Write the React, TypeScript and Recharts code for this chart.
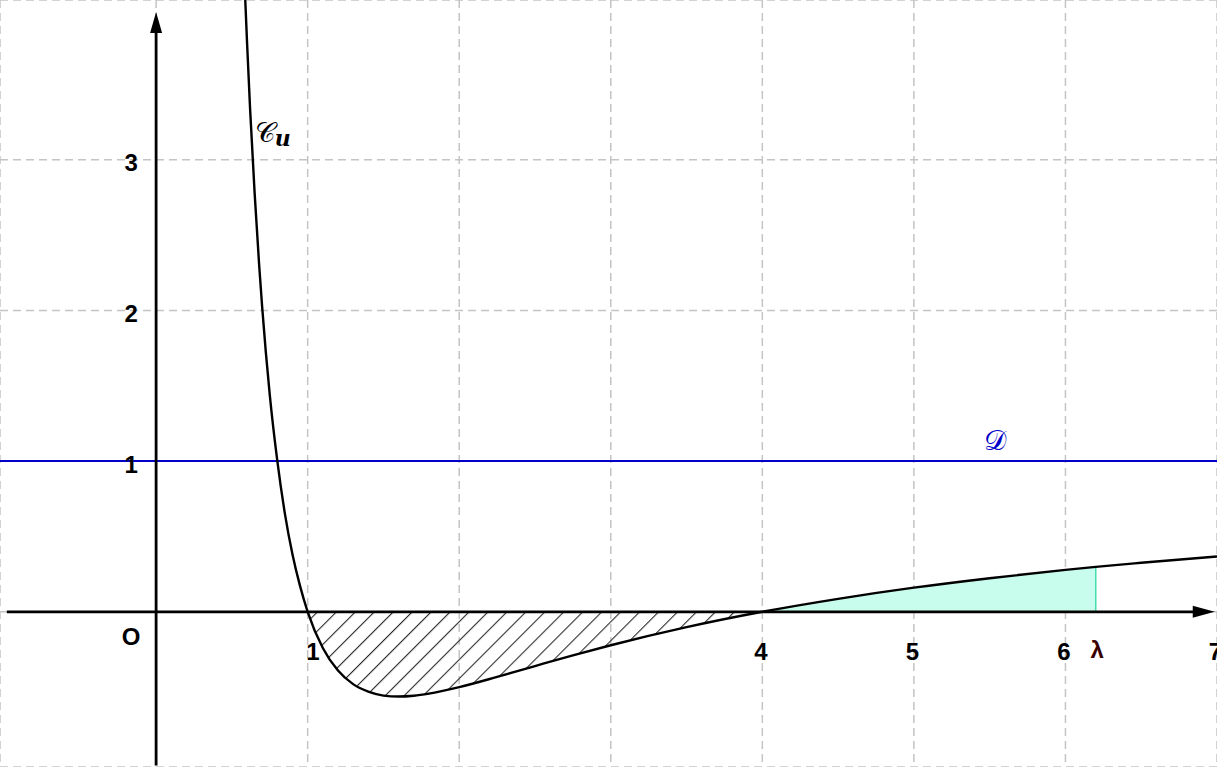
import {
  ComposedChart,
  Line,
  Area,
  XAxis,
  YAxis,
  CartesianGrid,
  ReferenceLine,
  ReferenceDot,
} from "recharts";

// values
const xValues = [
  0.585, 0.6, 0.62, 0.65, 0.68, 0.7, 0.75, 0.8, 0.85, 0.9, 0.95, 1, 1.1, 1.2,
  1.3, 1.4, 1.5, 1.6, 1.7, 1.8, 2, 2.25, 2.5, 2.75, 3, 3.5, 4, 4.5, 5, 5.5, 6,
  6.2, 6.5, 7,
];
const uValues = [
  4.14, 3.78, 3.34, 2.78, 2.3, 2.02, 1.44, 1.0, 0.65, 0.38, 0.17, 0, -0.24,
  -0.39, -0.48, -0.53, -0.556, -0.5625, -0.557, -0.543, -0.5, -0.432, -0.36,
  -0.289, -0.222, -0.102, 0, 0.086, 0.16, 0.223, 0.278, 0.298, 0.325, 0.367,
];
const lambda = 6.2;
const xTicks = [-1, 0, 1, 2, 3, 4, 5, 6, 7];
const yTicks = [-1, 0, 1, 2, 3];
const yLabels = ["1", "2", "3"];
const xLabels = ["1", "4", "5", "6", "7"];

const data = xValues.map((x, i) => ({
  x,
  u: uValues[i],
  hatch: x >= 1 && x <= 4 ? uValues[i] : null,
  cyan: x >= 4 && x <= lambda ? uValues[i] : null,
}));

const labelStyle = {
  fontFamily: "'Liberation Sans', Arial, sans-serif",
  fontSize: "24px",
  fontWeight: 700,
};

const textShape =
  (value: string, color = "#000") =>
  (p: any) =>
    (
      <text
        x={p.cx}
        y={p.cy}
        textAnchor="middle"
        dominantBaseline="central"
        fill={color}
        style={labelStyle}
      >
        {value}
      </text>
    );

const arrowShape = (dir: "up" | "right") => (p: any) => {
  const { x1, y1, x2, y2 } = p;
  if (dir === "up") {
    const top = Math.min(y1, y2);
    const bottom = Math.max(y1, y2);
    return (
      <g>
        <line x1={x1} y1={bottom} x2={x1} y2={top + 18} stroke="#000" strokeWidth={2.8} />
        <polygon
          points={`${x1},${top} ${x1 - 6},${top + 21} ${x1 + 6},${top + 21}`}
          fill="#000"
        />
      </g>
    );
  }
  const left = Math.min(x1, x2);
  const right = Math.max(x1, x2);
  return (
    <g>
      <line x1={left} y1={y1} x2={right - 18} y2={y1} stroke="#000" strokeWidth={2.8} />
      <polygon
        points={`${right},${y1} ${right - 22},${y1 - 6} ${right - 22},${y1 + 6}`}
        fill="#000"
      />
    </g>
  );
};

export default function App() {
  return (
    <div style={{ position: "fixed", left: 0, top: 0, background: "#fff" }}>
      <ComposedChart
        width={1217}
        height={767}
        data={data}
        margin={{ top: 0, right: 0, bottom: 0, left: 0 }}
      >
        <defs>
          <pattern
            id="hatch"
            patternUnits="userSpaceOnUse"
            width={13.4}
            height={13.4}
            patternTransform="rotate(45)"
          >
            <line x1={0} y1={0} x2={0} y2={13.4} stroke="#2a2a2a" strokeWidth={2.2} />
          </pattern>
        </defs>
        <XAxis
          dataKey="x"
          type="number"
          domain={[-1.03, 7.0]}
          ticks={xTicks}
          allowDataOverflow
          hide
        />
        <YAxis
          type="number"
          domain={[-1.03, 4.06]}
          ticks={yTicks}
          allowDataOverflow
          hide
        />
        <CartesianGrid stroke="#c4c4c4" strokeWidth={1.5} strokeDasharray="8 5" />

        <Area
          dataKey="hatch"
          type="monotone"
          baseValue={0}
          stroke="none"
          fill="url(#hatch)"
          fillOpacity={1}
          isAnimationActive={false}
          connectNulls={false}
        />
        <Area
          dataKey="cyan"
          type="monotone"
          baseValue={0}
          stroke="none"
          fill="#c8fcec"
          fillOpacity={1}
          isAnimationActive={false}
          connectNulls={false}
        />
        <ReferenceLine
          segment={[
            { x: lambda, y: 0 },
            { x: lambda, y: 0.298 },
          ]}
          stroke="#44ddb0"
          strokeWidth={1.5}
        />
        <ReferenceLine y={1} stroke="#0000c8" strokeWidth={2} />

        <Line
          dataKey="u"
          type="monotone"
          stroke="#000"
          strokeWidth={2.4}
          dot={false}
          isAnimationActive={false}
        />

        <ReferenceLine
          segment={[
            { x: -0.985, y: 0 },
            { x: 6.985, y: 0 },
          ]}
          shape={arrowShape("right")}
        />
        <ReferenceLine
          segment={[
            { x: 0, y: -1.02 },
            { x: 0, y: 3.98 },
          ]}
          shape={arrowShape("up")}
        />

        {yLabels.map((t) => (
          <ReferenceDot
            key={`y${t}`}
            x={-0.165}
            y={Number(t) - 0.02}
            r={0}
            shape={textShape(t)}
          />
        ))}
        <ReferenceDot x={-0.165} y={-0.166} r={0} shape={textShape("O")} />
        {xLabels.map((t) => (
          <ReferenceDot
            key={`x${t}`}
            x={t === "1" ? 1.035 : t === "7" ? 6.99 : Number(t) - 0.01}
            y={-0.265}
            r={0}
            shape={textShape(t)}
          />
        ))}
        <ReferenceDot x={6.21} y={-0.25} r={0} shape={textShape("λ", "#3a0000")} />
        <ReferenceDot
          x={0.77}
          y={3.18}
          r={0}
          shape={(p: any) => (
            <text
              x={p.cx}
              y={p.cy}
              textAnchor="middle"
              dominantBaseline="central"
              style={{ fontFamily: "'DejaVu Serif', serif", fontSize: "28px" }}
            >
              𝒞
              <tspan style={{ fontStyle: "italic", fontWeight: 700, fontSize: "22px" }} dy={5}>
                u
              </tspan>
            </text>
          )}
        />
        <ReferenceDot
          x={5.535}
          y={1.14}
          r={0}
          shape={(p: any) => (
            <text
              x={p.cx}
              y={p.cy}
              textAnchor="middle"
              dominantBaseline="central"
              fill="#0000c8"
              style={{ fontFamily: "'DejaVu Serif', serif", fontSize: "28px" }}
            >
              𝒟
            </text>
          )}
        />
      </ComposedChart>
    </div>
  );
}
